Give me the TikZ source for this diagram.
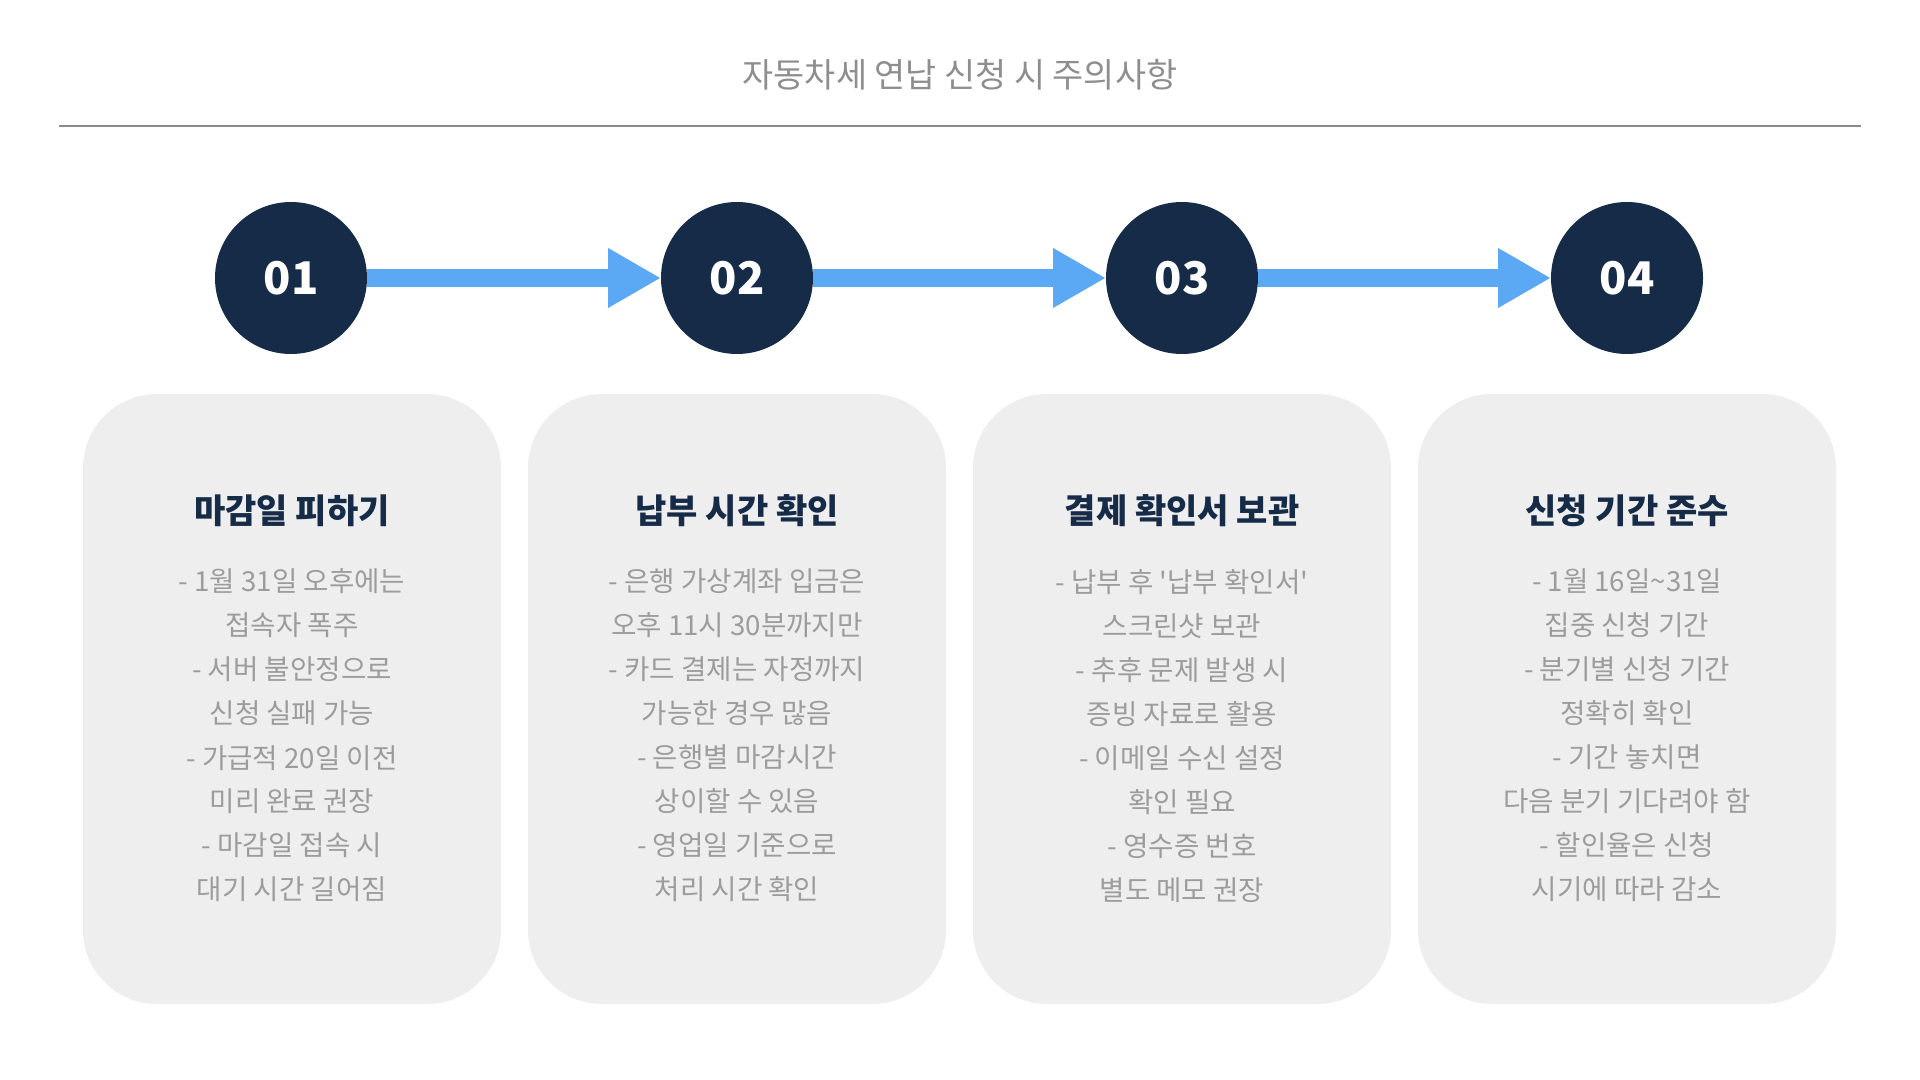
\documentclass[tikz,border=0pt]{standalone}
\usepackage{fontspec}
\setmainfont{Noto Sans CJK KR}[Ligatures=TeXOff]
\usetikzlibrary{arrows.meta, positioning}

\definecolor{navy}{HTML}{152B47}
\definecolor{arrowblue}{HTML}{5BA8F5}
\definecolor{cardgray}{HTML}{EEEEEE}
\definecolor{bodygray}{HTML}{9C9C9C}
\definecolor{titlegray}{HTML}{8E8E8E}
\definecolor{rulegray}{HTML}{8A8A8A}

\begin{document}
\begin{tikzpicture}[x=0.5pt, y=-0.5pt,
    numdot/.style={circle, fill=navy, minimum size=76pt, inner sep=0pt, outer sep=0pt, text=white, font=\fontsize{22.5}{24}\selectfont\bfseries},
    flow/.style={draw=arrowblue, line width=9pt, -{Triangle[length=26.5pt, width=28pt]}},
    card/.style={fill=cardgray, rounded corners=37pt, minimum width=209pt, minimum height=305pt, inner sep=0pt},
    cardtitle/.style={text=navy, font=\fontsize{17}{20}\selectfont\bfseries},
    cardbody/.style={text=bodygray, align=center, font=\fontsize{13.8}{22}\selectfont}]
    \useasboundingbox [fill=white] (0,0) rectangle (1920,1080);

    % Header
    \node [text=titlegray, font=\fontsize{16.9}{20}\selectfont] (title) at (960,75) {자동차세 연납 신청 시 주의사항};
    \coordinate (ruleL) at (59,126);
    \coordinate (ruleR) at (1861,126);
    \draw [rulegray, line width=1pt] (ruleL) -- (ruleR);

    % Step circles
    \node [numdot] (n1) at (291,278) {01};
    \node [numdot] (n2) at (737,278) {02};
    \node [numdot] (n3) at (1182,278) {03};
    \node [numdot] (n4) at (1627,278) {04};

    % Connections: step to step
    \draw [flow] (n1) -- (n2);
    \draw [flow] (n2) -- (n3);
    \draw [flow] (n3) -- (n4);

    % Cards
    \node [card] (card1) at (292,699) {};
    \node [card] (card2) at (737,699) {};
    \node [card] (card3) at (1182,699) {};
    \node [card] (card4) at (1627,699) {};

    % Card titles
    \node [cardtitle] (t1) at ([yshift=-58.5pt]card1.north) {마감일 피하기};
    \node [cardtitle] (t2) at ([yshift=-58.5pt]card2.north) {납부 시간 확인};
    \node [cardtitle] (t3) at ([yshift=-58.5pt]card3.north) {결제 확인서 보관};
    \node [cardtitle] (t4) at ([yshift=-58.5pt]card4.north) {신청 기간 준수};

    % Card texts
    \node [cardbody] (b1) at ([yshift=-171pt]card1.north) {- 1월 31일 오후에는\\ 접속자 폭주\\ - 서버 불안정으로\\ 신청 실패 가능\\ - 가급적 20일 이전\\ 미리 완료 권장\\ - 마감일 접속 시\\ 대기 시간 길어짐};
    \node [cardbody] (b2) at ([yshift=-171pt]card2.north) {- 은행 가상계좌 입금은\\ 오후 11시 30분까지만\\ - 카드 결제는 자정까지\\ 가능한 경우 많음\\ - 은행별 마감시간\\ 상이할 수 있음\\ - 영업일 기준으로\\ 처리 시간 확인};
    \node [cardbody] (b3) at ([yshift=-171pt]card3.north) {- 납부 후 '납부 확인서'\\ 스크린샷 보관\\ - 추후 문제 발생 시\\ 증빙 자료로 활용\\ - 이메일 수신 설정\\ 확인 필요\\ - 영수증 번호\\ 별도 메모 권장};
    \node [cardbody] (b4) at ([yshift=-171pt]card4.north) {- 1월 16일\textasciitilde 31일\\ 집중 신청 기간\\ - 분기별 신청 기간\\ 정확히 확인\\ - 기간 놓치면\\ 다음 분기 기다려야 함\\ - 할인율은 신청\\ 시기에 따라 감소};
\end{tikzpicture}
\end{document}
